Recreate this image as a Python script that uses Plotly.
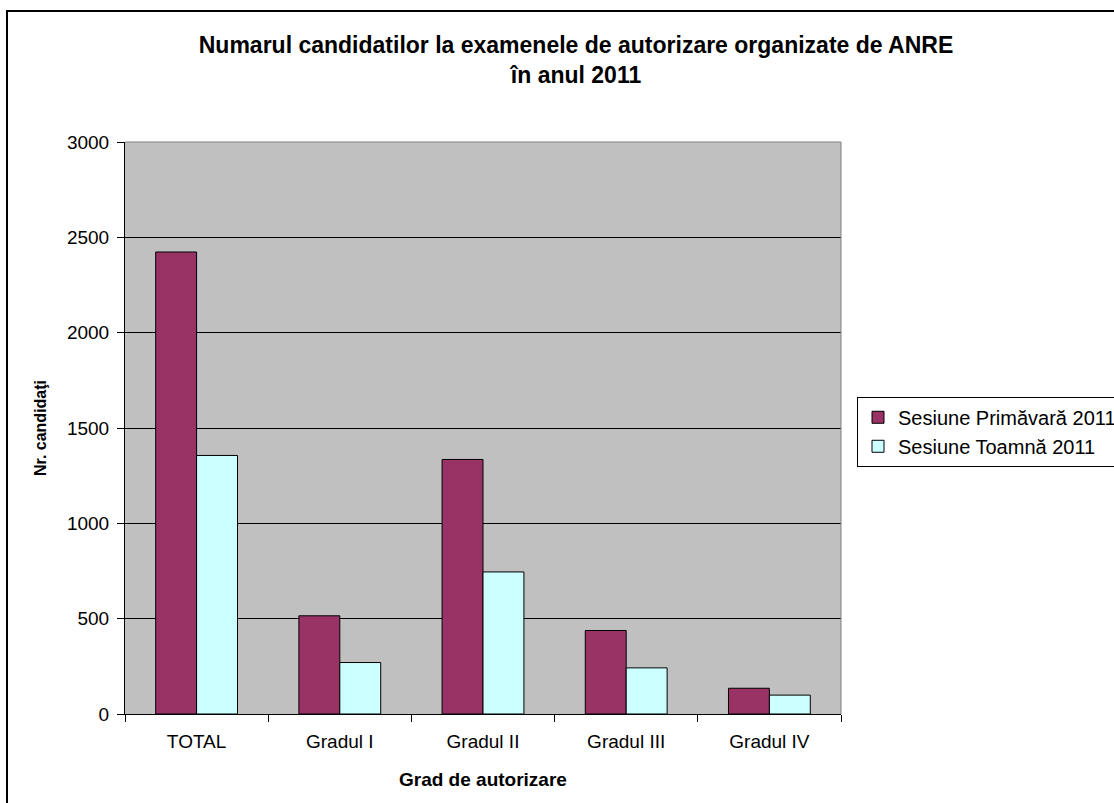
import plotly.graph_objects as go

# Candidates per authorization grade, ANRE 2011 exam sessions
categories = ["TOTAL", "Gradul I", "Gradul II", "Gradul III", "Gradul IV"]
spring_2011 = [2423, 515, 1335, 438, 135]
autumn_2011 = [1356, 270, 745, 242, 99]
y_ticks = [0, 500, 1000, 1500, 2000, 2500, 3000]

series_names = ["Sesiune Primăvară 2011", "Sesiune Toamnă 2011"]
series_colors = ["#993366", "#CCFFFF"]

W, H = 1114, 803
L, R, T, B = 125, 841, 142, 714.5  # plot area edges in pixels


def px_x(p):
    return (p - L) / (R - L)


def px_y(p):
    return (B - p) / (B - T)


FONT = "Liberation Sans, Arial, sans-serif"

fig = go.Figure()
for name, vals, col in zip(series_names, [spring_2011, autumn_2011], series_colors):
    fig.add_trace(go.Bar(
        x=categories, y=vals, name=name,
        marker=dict(color=col, line=dict(color="black", width=1)),
    ))

fig.update_layout(
    width=W, height=H,
    margin=dict(l=L, r=W - R, t=T, b=H - B, autoexpand=False),
    paper_bgcolor="white",
    plot_bgcolor="#C0C0C0",
    barmode="group",
    bargap=1.5 / 3.5,
    bargroupgap=0,
    font=dict(family=FONT, size=19, color="black"),
    title=dict(
        text="<b>Numarul candidatilor la examenele de autorizare organizate de ANRE<br>în anul 2011</b>",
        x=px_x(576), xref="paper", xanchor="center",
        y=(H - 53) / H, yref="container", yanchor="top",
        font=dict(family=FONT, size=23, color="black"),
    ),
    showlegend=True,
    legend=dict(
        x=px_x(857), y=px_y(397), xanchor="left", yanchor="top",
        bgcolor="white", bordercolor="black", borderwidth=1,
        font=dict(family=FONT, size=20, color="black"),
        traceorder="normal",
    ),
    xaxis=dict(
        type="category",
        showline=True, linecolor="black", linewidth=1,
        ticks="outside", ticklen=7, tickcolor="black", tickson="boundaries",
        showgrid=False,
        tickfont=dict(family=FONT, size=19, color="black"),
        ticklabelstandoff=10,
    ),
    yaxis=dict(
        range=[0, 3000],
        tickvals=y_ticks,
        showline=True, linecolor="black", linewidth=1,
        ticks="outside", ticklen=7, tickcolor="black",
        showgrid=True, gridcolor="black", gridwidth=1,
        zeroline=False,
        tickfont=dict(family=FONT, size=19, color="black"),
        ticklabelstandoff=4,
    ),
    annotations=[
        dict(text="<b>Nr. candidaţi</b>", xref="paper", yref="paper",
             x=px_x(40), y=0.5, xanchor="center", yanchor="middle",
             textangle=-90, showarrow=False,
             font=dict(family=FONT, size=16, color="black")),
        dict(text="<b>Grad de autorizare</b>", xref="paper", yref="paper",
             x=0.5, y=px_y(780), xanchor="center", yanchor="middle",
             showarrow=False,
             font=dict(family=FONT, size=19, color="black")),
    ],
    shapes=[
        # plot area frame (top and right edges)
        dict(type="line", xref="paper", yref="paper", x0=0, x1=1, y0=1, y1=1,
             line=dict(color="#808080", width=1), layer="above"),
        dict(type="line", xref="paper", yref="paper", x0=1, x1=1, y0=0, y1=1,
             line=dict(color="#808080", width=1), layer="above"),
        # chart border
        dict(type="rect", xref="paper", yref="paper",
             x0=px_x(7), x1=px_x(1125), y0=px_y(11), y1=px_y(815),
             line=dict(color="black", width=2), fillcolor="rgba(0,0,0,0)",
             layer="above"),
    ],
)

fig.write_html("out.html")
